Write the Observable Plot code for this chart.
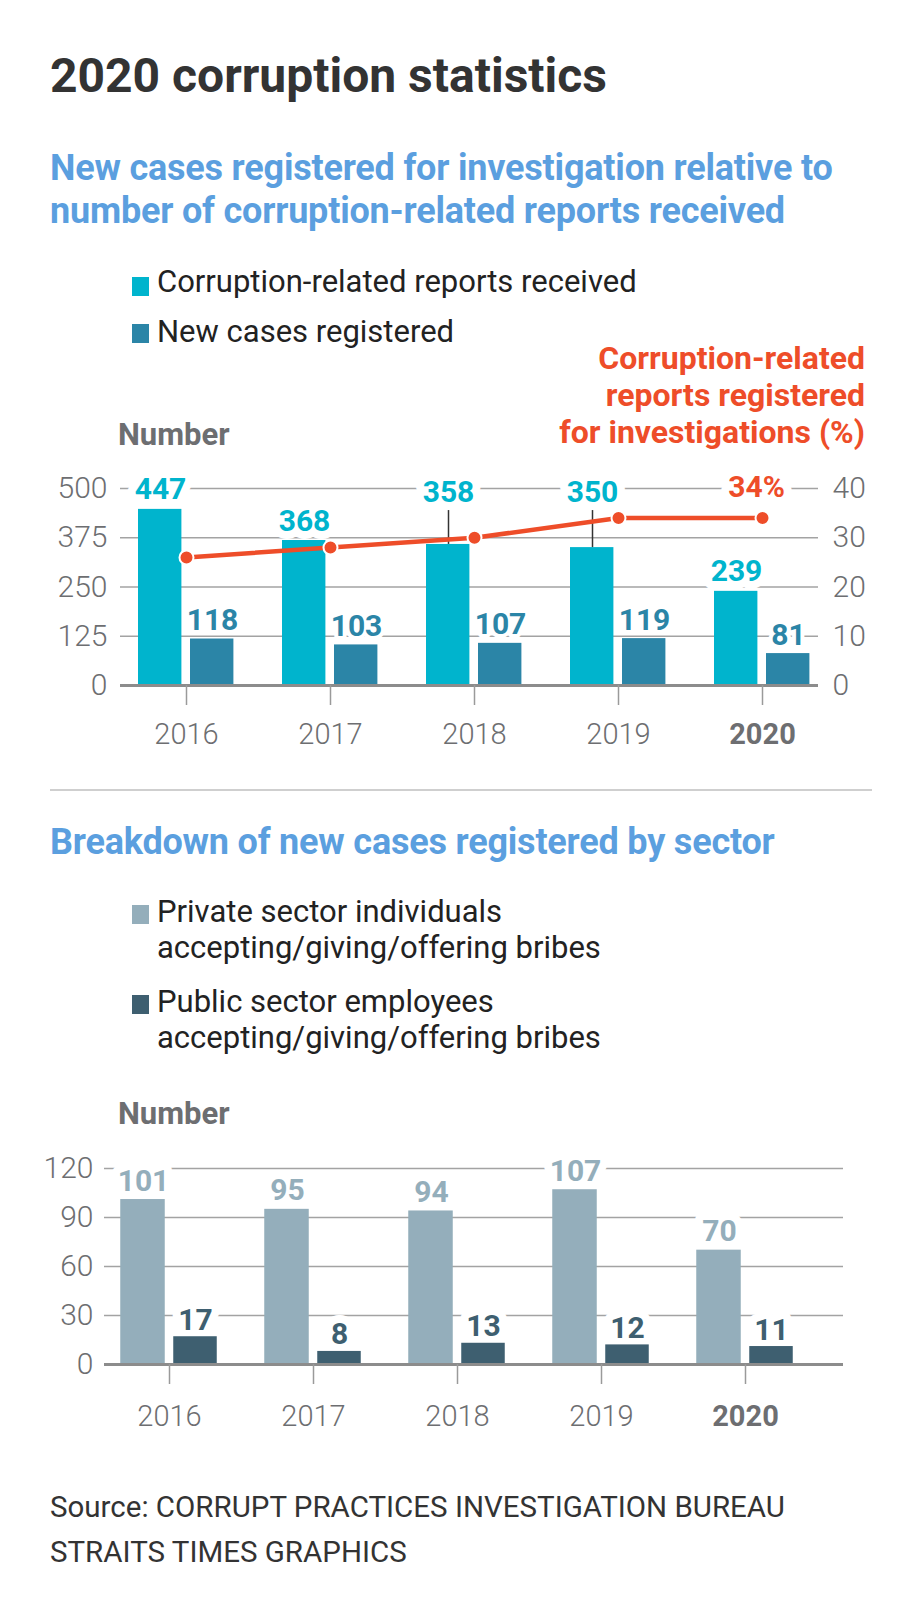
<!DOCTYPE html>
<html>
<head>
<meta charset="utf-8">
<script src="https://cdn.jsdelivr.net/npm/d3@7"></script>
<script src="https://cdn.jsdelivr.net/npm/@observablehq/plot@0.6"></script>
<style>
  body { margin: 0; background: #fff; font-family: Roboto, "Noto Sans", sans-serif; }
  #page { position: relative; width: 920px; height: 1614px; overflow: hidden; background: #fff; }
  .abs { position: absolute; white-space: nowrap; }
  .title { left: 50px; top: 52px; font-size: 48px; line-height: 48px; font-weight: 700; color: #333; }
  .sub { left: 50px; font-size: 36px; line-height: 43px; font-weight: 700; color: #5b9fdf; letter-spacing: -0.2px; }
  .leg { left: 157px; font-size: 31px; line-height: 36px; font-weight: 400; color: #222; }
  .sw { position: absolute; left: 132px; width: 17px; height: 19px; }
  .num { left: 118px; font-size: 31px; line-height: 31px; font-weight: 700; color: #6d6e71; }
  .pcttitle { right: 55px; top: 340px; font-size: 32px; line-height: 37px; font-weight: 700; color: #ee4d29; text-align: right; }
  .sep { position: absolute; left: 50px; width: 822px; top: 789px; height: 2px; background: #cfcfcf; }
  .src { left: 50px; top: 1485px; font-size: 29.5px; line-height: 45px; font-weight: 400; color: #333; }
  .chart { position: absolute; left: 0; }
  .chart svg { overflow: visible; }
</style>
</head>
<body>
<div id="page">
  <div class="abs title">2020 corruption statistics</div>
  <div class="abs sub" style="top:147px">New cases registered for investigation relative to<br>number of corruption-related reports received</div>

  <div class="sw" style="top:277px;background:#00b4cd"></div>
  <div class="abs leg" style="top:264px">Corruption-related reports received</div>
  <div class="sw" style="top:324px;background:#2b85a7"></div>
  <div class="abs leg" style="top:314px">New cases registered</div>

  <div class="abs pcttitle">Corruption-related<br>reports registered<br>for investigations (%)</div>
  <div class="abs num" style="top:419px">Number</div>

  <div class="chart" id="chart1" style="top:460px"></div>

  <div class="sep"></div>

  <div class="abs sub" style="top:821px">Breakdown of new cases registered by sector</div>
  <div class="sw" style="top:905px;background:#94aebb"></div>
  <div class="abs leg" style="top:894px">Private sector individuals<br>accepting/giving/offering bribes</div>
  <div class="sw" style="top:995px;background:#3e5f70"></div>
  <div class="abs leg" style="top:984px">Public sector employees<br>accepting/giving/offering bribes</div>

  <div class="abs num" style="top:1098px">Number</div>

  <div class="chart" id="chart2" style="top:1140px"></div>

  <div class="abs src">Source: CORRUPT PRACTICES INVESTIGATION BUREAU<br>STRAITS TIMES GRAPHICS</div>
</div>
<script>
// ---- Data ----
const years = ["2016", "2017", "2018", "2019", "2020"];
const reportsReceived = [447, 368, 358, 350, 239];
const casesRegistered = [118, 103, 107, 119, 81];
const pctRegistered = [26, 28, 30, 34, 34];
const numberTicks = [0, 125, 250, 375, 500];
const pctTicks = [0, 10, 20, 30, 40];

const privateSector = [101, 95, 94, 107, 70];
const publicSector = [17, 8, 13, 12, 11];
const sectorTicks = [0, 30, 60, 90, 120];

// ---- Styles ----
const C = {
  cyan: "#00b4cd", teal: "#2b85a7", orange: "#ee4d29",
  light: "#94aebb", dark: "#3e5f70",
  grid: "#a3a3a3", base: "#8c8c8c", tick: "#9a9a9a", axis: "#6d6e71"
};
const FONT = "Roboto, 'Noto Sans', sans-serif";

// ---- Chart 1 ----
const rows1 = years.map((year, i) => ({
  year, reports: reportsReceived[i], cases: casesRegistered[i], pct: pctRegistered[i]
}));
const pctMax = pctTicks[pctTicks.length - 1];
const numMax = numberTicks[numberTicks.length - 1];
const PCT = numMax / pctMax;
const lifted = new Set(["2018", "2019"]);   // labels moved to the top row with leader lines
const LABEL_ROW = 440;                      // layout: top label row (value units)
const LEADER_TOP = 444;

const labelOpts = {fontSize: 30, fontWeight: 700, lineAnchor: "bottom", fontFamily: FONT};
const haloBig = {fill: "white", stroke: "white", strokeWidth: 16, strokeLinejoin: "round"};
const haloSmall = {fill: "white", stroke: "white", strokeWidth: 8, strokeLinejoin: "round"};
const repLabelY = d => lifted.has(d.year) ? LABEL_ROW : d.reports;

const chart1 = Plot.plot({
  width: 920, height: 300,
  marginTop: 28, marginBottom: 75, marginLeft: 120, marginRight: 102,
  x: {type: "band", domain: years, range: [112, 835], padding: 0, label: null},
  y: {domain: [0, numMax], label: null},
  style: {fontFamily: FONT, background: "transparent", overflow: "visible"},
  marks: [
    Plot.ruleY(numberTicks.slice(1), {stroke: C.grid, strokeWidth: 1.5}),
    // halos that break the gridlines behind labels
    Plot.text(rows1, {x: "year", y: repLabelY, text: d => String(d.reports), dx: -26, dy: -10, ...labelOpts, ...haloBig}),
    Plot.text(rows1, {x: "year", y: "cases", text: d => String(d.cases), dx: 26, dy: -9, ...labelOpts, ...haloSmall}),
    Plot.text(rows1.slice(-1), {x: "year", y: d => d.pct * PCT, text: d => d.pct + "%", dx: -6, dy: -21, ...labelOpts, ...haloBig}),
    Plot.axisY(numberTicks, {anchor: "right", tickSize: 0, tickPadding: 14, tickFormat: d => d / PCT, fontSize: 30, fontWeight: 300, fill: C.axis, label: null}),
    Plot.axisY(numberTicks, {anchor: "left", tickSize: 0, tickPadding: 13, fontSize: 30, fontWeight: 300, fill: C.axis, label: null}),
    Plot.barY(rows1, {x: "year", y: "reports", fill: C.cyan, insetLeft: 24, insetRight: 76.6}),
    Plot.barY(rows1, {x: "year", y: "cases", fill: C.teal, insetLeft: 76, insetRight: 24.6}),
    Plot.ruleY([0], {stroke: C.base, strokeWidth: 3}),
    Plot.axisX(years.filter(y => y !== "2020"), {tickSize: 20, tickPadding: 18, stroke: C.tick, strokeWidth: 1.5, fontSize: 29, fontWeight: 300, fill: C.axis, label: null}),
    Plot.axisX(["2020"], {tickSize: 20, tickPadding: 18, stroke: C.tick, strokeWidth: 1.5, fontSize: 29, fontWeight: 700, fill: C.axis, label: null}),
    Plot.ruleX(rows1.filter(d => lifted.has(d.year)), {x: "year", dx: -26, y1: "reports", y2: LEADER_TOP, stroke: "#333", strokeWidth: 1.5}),
    Plot.line(rows1, {x: "year", y: d => d.pct * PCT, stroke: C.orange, strokeWidth: 4.5}),
    Plot.dot(rows1, {x: "year", y: d => d.pct * PCT, r: 7, fill: C.orange, stroke: "white", strokeWidth: 2}),
    Plot.text(rows1, {x: "year", y: repLabelY, text: d => String(d.reports), dx: -26, dy: -10, fill: C.cyan, ...labelOpts}),
    Plot.text(rows1, {x: "year", y: "cases", text: d => String(d.cases), dx: 26, dy: -9, fill: C.teal, ...labelOpts}),
    Plot.text(rows1.slice(-1), {x: "year", y: d => d.pct * PCT, text: d => d.pct + "%", dx: -6, dy: -21, fill: C.orange, ...labelOpts})
  ]
});
document.getElementById("chart1").appendChild(chart1);

// ---- Chart 2 ----
const rows2 = years.map((year, i) => ({year, priv: privateSector[i], pub: publicSector[i]}));
const secMax = sectorTicks[sectorTicks.length - 1];

const chart2 = Plot.plot({
  width: 920, height: 300,
  marginTop: 28, marginBottom: 76, marginLeft: 104, marginRight: 77,
  x: {type: "band", domain: years, range: [95.75, 818.25], padding: 0, label: null},
  y: {domain: [0, secMax], label: null},
  style: {fontFamily: FONT, background: "transparent", overflow: "visible"},
  marks: [
    Plot.ruleY(sectorTicks.slice(1), {stroke: C.grid, strokeWidth: 1.5}),
    Plot.text(rows2, {x: "year", y: "priv", text: d => String(d.priv), dx: -26, dy: -9, ...labelOpts, ...haloBig}),
    Plot.text(rows2, {x: "year", y: "pub", text: d => String(d.pub), dx: 26, dy: -7, ...labelOpts, ...haloBig}),
    Plot.axisY(sectorTicks, {anchor: "left", tickSize: 0, tickPadding: 11, fontSize: 30, fontWeight: 300, fill: C.axis, label: null}),
    Plot.barY(rows2, {x: "year", y: "priv", fill: C.light, insetLeft: 23.25, insetRight: 76.25}),
    Plot.barY(rows2, {x: "year", y: "pub", fill: C.dark, insetLeft: 76.25, insetRight: 24.25}),
    Plot.ruleY([0], {stroke: C.base, strokeWidth: 3}),
    Plot.axisX(years.filter(y => y !== "2020"), {tickSize: 20, tickPadding: 21, stroke: C.tick, strokeWidth: 1.5, fontSize: 29, fontWeight: 300, fill: C.axis, label: null}),
    Plot.axisX(["2020"], {tickSize: 20, tickPadding: 21, stroke: C.tick, strokeWidth: 1.5, fontSize: 29, fontWeight: 700, fill: C.axis, label: null}),
    Plot.text(rows2, {x: "year", y: "priv", text: d => String(d.priv), dx: -26, dy: -9, fill: C.light, ...labelOpts}),
    Plot.text(rows2, {x: "year", y: "pub", text: d => String(d.pub), dx: 26, dy: -7, fill: C.dark, ...labelOpts})
  ]
});
document.getElementById("chart2").appendChild(chart2);
</script>
</body>
</html>
